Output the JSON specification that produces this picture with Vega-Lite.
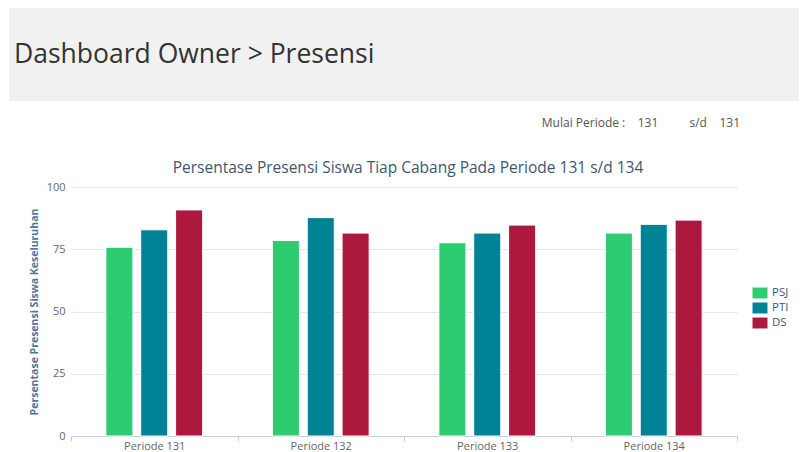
{
  "$schema": "https://vega.github.io/schema/vega-lite/v6.json",
  "padding": {"left": 9, "top": 8, "right": 0, "bottom": 0},
  "background": "#ffffff",
  "config": {"font": "Open Sans", "view": {"stroke": null}},
  "title": {"text": "Dashboard Owner > Presensi", "anchor": "start", "frame": "bounds", "orient": "top", "offset": -81, "baseline": "alphabetic", "fontSize": 26.5, "fontWeight": "normal", "color": "#333333", "dx": 5},
  "bounds": "flush",
  "center": true,
  "spacing": 86,
  "vconcat": [
    {
      "width": 790,
      "height": 93,
      "view": {"fill": "#f1f1f1", "stroke": null},
      "data": {"values": []},
      "mark": "point",
      "title": {"text": "Mulai Periode :\u00a0\u00a0\u00a0\u00a0131\u00a0\u00a0\u00a0\u00a0\u00a0\u00a0\u00a0\u00a0\u00a0\u00a0s/d\u00a0\u00a0\u00a0\u00a0131", "orient": "bottom", "anchor": "end", "frame": "group", "offset": 26, "baseline": "alphabetic", "dx": -59, "fontSize": 12, "fontWeight": "normal", "color": "#555555"}
    },
    {
      "width": 666,
      "height": 249,
      "data": {"values": [
        {"periode": "Periode 131", "cabang": "PSJ", "nilai": 75.8},
        {"periode": "Periode 131", "cabang": "PTI", "nilai": 82.8},
        {"periode": "Periode 131", "cabang": "DS", "nilai": 90.8},
        {"periode": "Periode 132", "cabang": "PSJ", "nilai": 78.5},
        {"periode": "Periode 132", "cabang": "PTI", "nilai": 87.7},
        {"periode": "Periode 132", "cabang": "DS", "nilai": 81.5},
        {"periode": "Periode 133", "cabang": "PSJ", "nilai": 77.6},
        {"periode": "Periode 133", "cabang": "PTI", "nilai": 81.5},
        {"periode": "Periode 133", "cabang": "DS", "nilai": 84.7},
        {"periode": "Periode 134", "cabang": "PSJ", "nilai": 81.5},
        {"periode": "Periode 134", "cabang": "PTI", "nilai": 85},
        {"periode": "Periode 134", "cabang": "DS", "nilai": 86.7}
      ]},
      "title": {"text": "Persentase Presensi Siswa Tiap Cabang Pada Periode 131 s/d 134", "fontSize": 15.5, "fontWeight": "normal", "color": "#3E576F", "offset": -7, "baseline": "alphabetic", "anchor": "middle", "frame": "group", "dx": 4},
      "mark": {"type": "bar", "stroke": "#ffffff", "strokeWidth": 1},
      "encoding": {
        "x": {"field": "periode", "type": "nominal", "scale": {"paddingInner": 0, "paddingOuter": 0},
          "axis": {"title": null, "labelAngle": 0, "tickBand": "extent", "domainColor": "#C0D0E0", "tickColor": "#C0D0E0", "tickSize": 5, "labelColor": "#666666", "labelFontSize": 11, "labelPadding": -1, "grid": false}},
        "xOffset": {"field": "cabang", "type": "nominal", "sort": ["PSJ", "PTI", "DS"], "scale": {"paddingInner": 0.224, "paddingOuter": 1.05}},
        "y": {"field": "nilai", "type": "quantitative", "scale": {"domain": [0, 100], "nice": false},
          "axis": {"values": [0, 25, 50, 75, 100], "title": "Persentase Presensi Siswa Keseluruhan", "titleColor": "#4D759E", "titleFontSize": 10.5, "titleFontWeight": "bold", "titlePadding": 7, "domain": false, "ticks": false, "gridColor": "#E6E6E6", "labelColor": "#666666", "labelFontSize": 11, "labelPadding": 6}},
        "color": {"field": "cabang", "type": "nominal", "sort": ["PSJ", "PTI", "DS"],
          "scale": {"domain": ["PSJ", "PTI", "DS"], "range": ["#2ecc71", "#008296", "#ad183e"]},
          "legend": {"title": null, "orient": "none", "legendX": 744, "legendY": 278, "symbolType": "M-1.07,-0.78H1.07V0.78H-1.07Z", "symbolSize": 196, "symbolStrokeWidth": 0, "labelFontSize": 11.5, "labelColor": "#3E576F", "labelOffset": 5, "rowPadding": 2, "padding": 0}}
      }
    }
  ]
}
